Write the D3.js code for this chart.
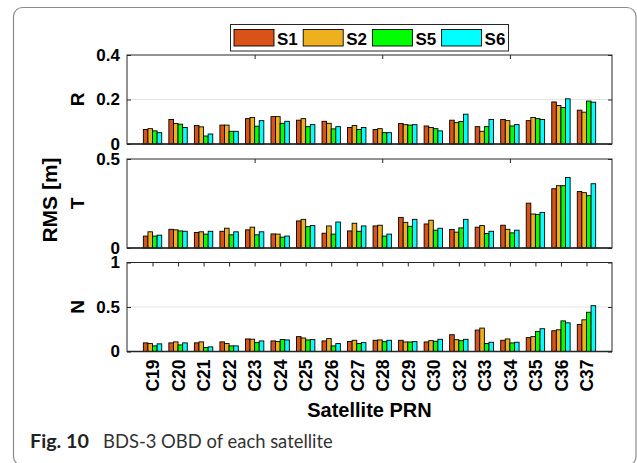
<!DOCTYPE html>
<html><head><meta charset="utf-8">
<script src="https://cdn.jsdelivr.net/npm/d3@7"></script>
<style>
html,body{margin:0;padding:0;background:#fff;}
svg{display:block;}
</style></head>
<body>
<svg id="chart" width="637" height="463"></svg>
<script>
// ---- data ----
const categories = ["C19","C20","C21","C22","C23","C24","C25","C26","C27","C28","C29","C30","C32","C33","C34","C35","C36","C37"];
const seriesNames = ["S1","S2","S5","S6"];
const seriesColors = ["#D95319","#EDB120","#00FF00","#00FFFF"];

const R_S1 = [0.065,0.110,0.083,0.085,0.114,0.123,0.107,0.102,0.074,0.065,0.092,0.081,0.107,0.078,0.110,0.105,0.189,0.152];
const R_S2 = [0.069,0.092,0.077,0.085,0.119,0.123,0.114,0.093,0.083,0.069,0.087,0.074,0.096,0.057,0.105,0.119,0.173,0.143];
const R_S5 = [0.059,0.089,0.036,0.057,0.080,0.093,0.078,0.068,0.065,0.051,0.085,0.069,0.101,0.078,0.081,0.114,0.164,0.193];
const R_S6 = [0.051,0.074,0.045,0.057,0.105,0.102,0.087,0.078,0.074,0.051,0.087,0.059,0.134,0.110,0.087,0.110,0.203,0.188];

const T_S1 = [0.067,0.105,0.087,0.094,0.102,0.079,0.152,0.083,0.096,0.124,0.172,0.135,0.104,0.117,0.128,0.252,0.333,0.317];
const T_S2 = [0.091,0.102,0.091,0.111,0.117,0.078,0.161,0.124,0.139,0.128,0.144,0.156,0.089,0.126,0.105,0.191,0.350,0.311];
const T_S5 = [0.067,0.096,0.078,0.074,0.074,0.061,0.120,0.078,0.094,0.067,0.122,0.100,0.113,0.081,0.085,0.189,0.350,0.294];
const T_S6 = [0.072,0.094,0.094,0.091,0.091,0.067,0.126,0.146,0.124,0.078,0.161,0.111,0.161,0.094,0.100,0.200,0.396,0.361];

const N_S1 = [0.097,0.097,0.097,0.108,0.141,0.119,0.167,0.119,0.112,0.126,0.126,0.107,0.189,0.241,0.126,0.156,0.233,0.304];
const N_S2 = [0.089,0.108,0.108,0.089,0.138,0.112,0.152,0.145,0.126,0.130,0.107,0.122,0.133,0.263,0.141,0.167,0.244,0.356];
const N_S5 = [0.063,0.074,0.045,0.063,0.100,0.134,0.130,0.063,0.089,0.111,0.107,0.115,0.122,0.089,0.096,0.226,0.344,0.441];
const N_S6 = [0.086,0.097,0.052,0.063,0.119,0.130,0.134,0.089,0.100,0.126,0.111,0.137,0.137,0.104,0.104,0.256,0.322,0.515];

const panelLabels = ["R","T","N"];
const panelMax = [0.4, 0.5, 1];
const R_ticks = [0, 0.2, 0.4];
const T_ticks = [0, 0.5];
const N_ticks = [0, 0.5, 1];
const R_grid = [0.2];
const T_grid = [];
const N_grid = [0.5];

const panels = [
  {label: panelLabels[0], max: panelMax[0], ticks: R_ticks, grid: R_grid, series: [R_S1,R_S2,R_S5,R_S6], top: 55},
  {label: panelLabels[1], max: panelMax[1], ticks: T_ticks, grid: T_grid, series: [T_S1,T_S2,T_S5,T_S6], top: 159},
  {label: panelLabels[2], max: panelMax[2], ticks: N_ticks, grid: N_grid, series: [N_S1,N_S2,N_S5,N_S6], top: 262.5}
];

// ---- layout ----
const svg = d3.select("#chart");
const FONT = "'Liberation Sans', Arial, Helvetica, sans-serif";
const left = 127, right = 612, ph = 89;
const x = d3.scaleLinear().domain([0, categories.length + 1]).range([left, right]);
const groupW = 0.72, barW = groupW / seriesNames.length;

// outer frame
svg.append("rect").attr("x",13.5).attr("y",7.5).attr("width",622.5).attr("height",458)
  .attr("rx",9).attr("fill","none").attr("stroke","#8c8c8c").attr("stroke-width",1.2);

panels.forEach((p, pi) => {
  const y = d3.scaleLinear().domain([0, p.max]).range([p.top + ph, p.top]);
  const g = svg.append("g");
  // grid
  g.selectAll(".grid").data(p.grid).join("line")
    .attr("x1", left).attr("x2", right)
    .attr("y1", d => y(d)).attr("y2", d => y(d))
    .attr("stroke", "#e3e3e3").attr("stroke-width", 1);

  // x ticks (top & bottom, inward)
  const xt = pi === 2 ? d3.range(1, categories.length + 1) : [5, 10, 15];
  const topAx = g.append("g").attr("transform", `translate(0,${p.top})`)
    .call(d3.axisTop(x).tickValues(xt).tickSize(-4).tickFormat(""));
  topAx.select(".domain").remove();
  topAx.selectAll("line").attr("stroke", "#262626");
  const botAx = g.append("g").attr("transform", `translate(0,${p.top + ph})`)
    .call(d3.axisBottom(x).tickValues(xt).tickSize(-4).tickFormat(""));
  botAx.select(".domain").remove();
  botAx.selectAll("line").attr("stroke", "#262626");

  // y axis
  const yAx = g.append("g").attr("transform", `translate(${left},0)`)
    .call(d3.axisLeft(y).tickValues(p.ticks).tickSize(-4).tickPadding(7).tickFormat(d => String(d)));
  yAx.select(".domain").remove();
  yAx.selectAll("line").attr("stroke", "#262626");
  yAx.selectAll("text").attr("font-family", FONT).attr("font-weight", "bold")
    .attr("font-size", 17).attr("fill", "#000");
  const yAxR = g.append("g").attr("transform", `translate(${right},0)`)
    .call(d3.axisRight(y).tickValues(p.ticks).tickSize(-4).tickFormat(""));
  yAxR.select(".domain").remove();
  yAxR.selectAll("line").attr("stroke", "#262626");

  // bars
  p.series.forEach((vals, si) => {
    g.selectAll(".bar" + si).data(vals).join("rect")
      .attr("x", (d, i) => x(i + 1 - groupW / 2 + si * barW))
      .attr("width", x(barW) - x(0))
      .attr("y", d => y(d))
      .attr("height", d => y(0) - y(d))
      .attr("fill", seriesColors[si])
      .attr("stroke", "#000").attr("stroke-width", 0.9);
  });

  // box
  g.append("rect").attr("x", left).attr("y", p.top).attr("width", right - left).attr("height", ph)
    .attr("fill", "none").attr("stroke", "#262626").attr("stroke-width", 1);
  g.append("line").attr("x1", left).attr("x2", right).attr("y1", p.top + ph).attr("y2", p.top + ph)
    .attr("stroke", "#262626").attr("stroke-width", 1.6);

  // panel label
  svg.append("text").attr("transform", `translate(83.5,${p.top + ph / 2}) rotate(-90)`)
    .attr("text-anchor", "middle").attr("font-family", FONT).attr("font-weight", "bold")
    .attr("font-size", 19).text(p.label);

  // x labels on last panel
  if (pi === 2) {
    const xl = g.append("g").attr("transform", `translate(0,${p.top + ph})`)
      .call(d3.axisBottom(x).tickValues(d3.range(1, categories.length + 1)).tickSize(0)
        .tickFormat(d => categories[d - 1]));
    xl.select(".domain").remove();
    xl.selectAll("text").attr("transform", "rotate(-90)").attr("text-anchor", "end")
      .attr("x", -8).attr("y", 0).attr("dy", "0.36em")
      .attr("font-family", FONT).attr("font-weight", "bold").attr("font-size", 17.5).attr("fill", "#000");
  }
});

// axis titles
svg.append("text").attr("transform", "translate(57,200) rotate(-90)")
  .attr("text-anchor", "middle").attr("font-family", FONT).attr("font-weight", "bold")
  .attr("font-size", 21).text("RMS [m]");
svg.append("text").attr("x", (left + right) / 2).attr("y", 417)
  .attr("text-anchor", "middle").attr("font-family", FONT).attr("font-weight", "bold")
  .attr("font-size", 20).text("Satellite PRN");

// legend
const lg = svg.append("g");
lg.append("rect").attr("x", 230.5).attr("y", 24.5).attr("width", 278).attr("height", 26.5)
  .attr("fill", "#fff").attr("stroke", "#262626").attr("stroke-width", 1);
const lx = d3.scaleLinear().domain([0, 1]).range([234, 303.2]);
seriesNames.forEach((s, i) => {
  lg.append("rect").attr("x", lx(i)).attr("y", 29.5).attr("width", 40).attr("height", 16.5)
    .attr("fill", seriesColors[i]).attr("stroke", "#000").attr("stroke-width", 0.9);
  lg.append("text").attr("x", lx(i) + 43).attr("y", 45).attr("font-family", FONT)
    .attr("font-weight", "bold").attr("font-size", 17).text(s);
});

// caption
const CF = "Lato, 'Open Sans', sans-serif";
const c1 = svg.append("text").attr("x", 30).attr("y", 448).attr("font-family", CF)
  .attr("font-weight", "bold").attr("font-size", 18).attr("fill", "#222").text("Fig. 10");
const w1 = c1.node().getComputedTextLength();
c1.attr("font-size", 18 * 59 / w1);
const c2 = svg.append("text").attr("x", 103).attr("y", 448).attr("font-family", CF)
  .attr("font-size", 18).attr("fill", "#333").text("BDS-3 OBD of each satellite");
const w2 = c2.node().getComputedTextLength();
c2.attr("font-size", 18 * 230 / w2);
</script>
</body></html>
